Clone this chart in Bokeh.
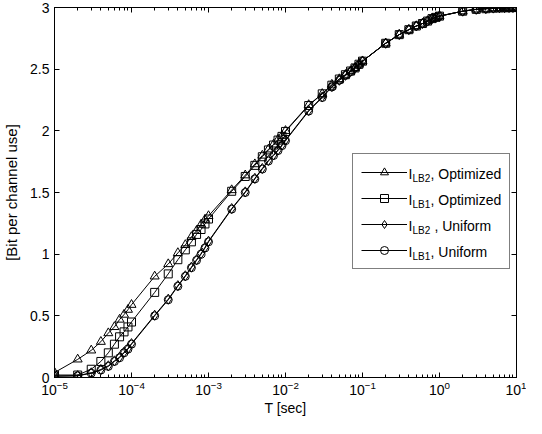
from bokeh.plotting import figure
from bokeh.models import (LogAxis, LinearAxis, LogTicker, FixedTicker, Legend,
                          LegendItem, Label, Range1d)
from bokeh.embed import file_html
from bokeh.resources import INLINE

# ---------------- data ----------------
T = [1e-5, 2e-5, 3e-5, 4e-5, 5e-5, 6e-5, 7e-5, 8e-5, 9e-5,
     1e-4, 2e-4, 3e-4, 4e-4, 5e-4, 6e-4, 7e-4, 8e-4, 9e-4,
     1e-3, 2e-3, 3e-3, 4e-3, 5e-3, 6e-3, 7e-3, 8e-3, 9e-3,
     1e-2, 2e-2, 3e-2, 4e-2, 5e-2, 6e-2, 7e-2, 8e-2, 9e-2,
     1e-1, 2e-1, 3e-1, 4e-1, 5e-1, 6e-1, 7e-1, 8e-1, 9e-1,
     1e0, 2e0, 3e0, 4e0, 5e0, 6e0, 7e0, 8e0, 9e0,
     1e1]

lb2_opt = [0.04, 0.147, 0.22, 0.29, 0.36, 0.41, 0.47, 0.51, 0.55,
           0.59, 0.82, 0.92, 1.01, 1.075, 1.14, 1.19, 1.24, 1.28,
           1.31, 1.52, 1.64, 1.73, 1.80, 1.85, 1.89, 1.93, 1.96,
           2.00, 2.21, 2.30, 2.375, 2.42, 2.455, 2.485, 2.51, 2.54,
           2.565, 2.71, 2.78, 2.82, 2.85, 2.87, 2.89, 2.91, 2.92,
           2.93, 2.97, 2.985, 2.99, 2.995, 2.997, 2.998, 2.999, 2.999,
           3.0]

lb1_opt = [0.02, 0.02, 0.067, 0.13, 0.20, 0.27, 0.33, 0.37, 0.41,
           0.45, 0.69, 0.84, 0.955, 1.035, 1.10, 1.16, 1.20, 1.245,
           1.285, 1.51, 1.63, 1.72, 1.79, 1.845, 1.885, 1.925, 1.955,
           1.995, 2.205, 2.30, 2.37, 2.42, 2.455, 2.485, 2.51, 2.54,
           2.565, 2.71, 2.78, 2.82, 2.85, 2.87, 2.89, 2.91, 2.92,
           2.93, 2.97, 2.985, 2.99, 2.995, 2.997, 2.998, 2.999, 2.999,
           3.0]

lb2_uni = [0.012, 0.015, 0.038, 0.065, 0.095, 0.135, 0.165, 0.205, 0.235,
           0.275, 0.505, 0.635, 0.745, 0.825, 0.895, 0.955, 1.005, 1.055,
           1.105, 1.37, 1.505, 1.615, 1.695, 1.76, 1.805, 1.845, 1.885,
           1.925, 2.165, 2.275, 2.36, 2.41, 2.45, 2.48, 2.51, 2.535,
           2.565, 2.71, 2.78, 2.82, 2.85, 2.87, 2.89, 2.91, 2.92,
           2.93, 2.97, 2.985, 2.99, 2.995, 2.997, 2.998, 2.999, 2.999,
           3.0]

lb1_uni = [0.01, 0.013, 0.035, 0.06, 0.09, 0.13, 0.16, 0.20, 0.23,
           0.27, 0.50, 0.63, 0.74, 0.82, 0.89, 0.95, 1.00, 1.05,
           1.10, 1.365, 1.50, 1.61, 1.69, 1.755, 1.80, 1.84, 1.88,
           1.92, 2.16, 2.27, 2.355, 2.41, 2.45, 2.48, 2.51, 2.535,
           2.565, 2.71, 2.78, 2.82, 2.85, 2.87, 2.89, 2.91, 2.92,
           2.93, 2.97, 2.985, 2.99, 2.995, 2.997, 2.998, 2.999, 2.999,
           3.0]

y_ticks = [0, 0.5, 1, 1.5, 2, 2.5, 3]

# legend texts: (main, subscript, rest)
legend_texts = [("I", "LB2", ", Optimized"),
                ("I", "LB1", ", Optimized"),
                ("I", "LB2", "\u00a0, Uniform"),
                ("I", "LB1", ", Uniform")]

FONT = "Liberation Sans"

p = figure(width=526, height=418, x_axis_type="log",
           x_range=Range1d(1e-5, 10), y_range=Range1d(0, 3),
           output_backend="svg", toolbar_location=None,
           min_border_left=47, min_border_right=10,
           min_border_top=7, min_border_bottom=41)
p.grid.visible = False
p.outline_line_color = "black"
p.background_fill_color = "white"
p.border_fill_color = "white"

xt = LogTicker(mantissas=[1], desired_num_ticks=7, num_minor_ticks=10)
yt = FixedTicker(ticks=y_ticks)

def style_axis(ax, show_labels=True):
    ax.axis_line_color = "black"
    ax.major_tick_line_color = "black"
    ax.minor_tick_line_color = "black"
    ax.major_tick_in = 5
    ax.major_tick_out = 0
    ax.minor_tick_in = 3
    ax.minor_tick_out = 0
    ax.major_label_text_font = FONT
    ax.major_label_text_color = "black"
    ax.axis_label_text_color = "black"
    if show_labels:
        ax.major_label_text_font_size = "14px"
    else:
        ax.major_label_text_font_size = "1px"
        ax.major_label_text_alpha = 0
        ax.major_label_standoff = 0

xa = p.xaxis[0]
xa.ticker = xt
style_axis(xa)
xa.major_label_standoff = 3
xa.axis_label = "T [sec]"
xa.axis_label_text_font = FONT
xa.axis_label_text_font_size = "14px"
xa.axis_label_text_font_style = "normal"
xa.axis_label_standoff = 2

ya = p.yaxis[0]
ya.ticker = yt
style_axis(ya)
ya.minor_tick_line_color = None
ya.major_label_standoff = 5
ya.axis_label = "[Bit per channel use]"
ya.axis_label_text_font = FONT
ya.axis_label_text_font_size = "15px"
ya.axis_label_text_font_style = "normal"
ya.axis_label_standoff = 7

top = LogAxis(ticker=xt)
style_axis(top, show_labels=False)
p.add_layout(top, "above")
right = LinearAxis(ticker=yt)
style_axis(right, show_labels=False)
right.minor_tick_line_color = None
p.add_layout(right, "right")

series = [(lb2_opt, "triangle", 9),
          (lb1_opt, "square", 8),
          (lb2_uni, "diamond", 10),
          (lb1_uni, "circle", 8)]

items = []
for ys, marker, size in series:
    lr = p.line(T, ys, line_color="black", line_width=1)
    sr = p.scatter(T, ys, marker=marker, size=size, fill_color=None,
                   line_color="black", line_width=1)
    items.append(LegendItem(label=" ", renderers=[lr, sr]))

LEG_X, LEG_Y = 298, 108
PAD, GW, GH, SP, STAND, LW = 8, 46, 20, 6, 2, 92
n = len(items)
leg_h = 2 * PAD + n * GH + (n - 1) * SP
tx = LEG_X + PAD + GW + STAND

legend = Legend(items=items, location=(LEG_X, LEG_Y), padding=PAD,
                spacing=SP, glyph_width=GW, glyph_height=GH,
                label_standoff=STAND, label_width=LW, label_height=GH,
                margin=0, border_line_color="black", border_line_width=1,
                background_fill_color="white", background_fill_alpha=0,
                label_text_font_size="13px")
p.add_layout(legend, "center")

for k, (main, sub, rest) in enumerate(legend_texts):
    cy = LEG_Y + leg_h - PAD - GH / 2 - k * (GH + SP)
    for dx, dy, txt, fs in ((0, 0, main, "14px"),
                            (4, -5, sub, "10px"),
                            (22, 0, rest, "14px")):
        lab = Label(x=tx + dx, y=cy + dy, x_units="screen", y_units="screen",
                    text=txt, text_font=FONT, text_font_size=fs,
                    text_baseline="middle", text_align="left",
                    text_color="black")
        p.add_layout(lab)

open("out.html", "w").write(file_html(p, INLINE))
